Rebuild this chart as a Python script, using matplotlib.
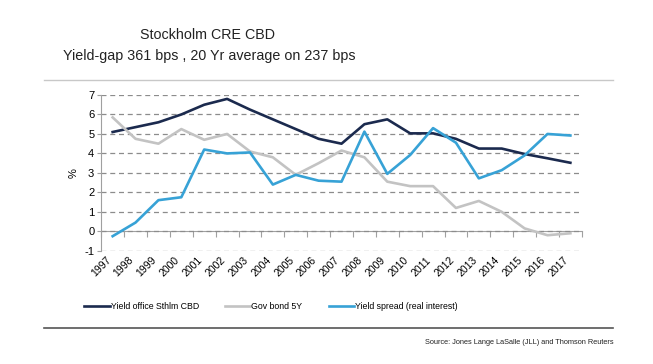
import matplotlib
matplotlib.use("Agg")
import matplotlib.pyplot as plt
from matplotlib.lines import Line2D
import numpy as np

plt.rcParams['font.family'] = ['Liberation Sans', 'DejaVu Sans']
plt.rcParams['axes.unicode_minus'] = False

years = [str(y) for y in range(1997, 2018)]
yield_office = [5.1, 5.35, 5.6, 6.0, 6.5, 6.8, 6.25, 5.75, 5.25, 4.75, 4.5,
                5.5, 5.75, 5.03, 5.03, 4.75, 4.25, 4.25, 3.97, 3.75, 3.52]
gov_bond = [5.85, 4.75, 4.5, 5.25, 4.7, 5.0, 4.1, 3.8, 2.9, 3.5, 4.15,
            3.8, 2.55, 2.32, 2.32, 1.2, 1.56, 1.0, 0.15, -0.2, -0.1]
yield_spread = [-0.25, 0.45, 1.6, 1.75, 4.2, 4.0, 4.05, 2.4, 2.9, 2.6, 2.55,
                5.12, 2.95, 3.92, 5.3, 4.55, 2.72, 3.14, 3.9, 5.0, 4.92]

labels = ["Yield office Sthlm CBD", "Gov bond 5Y", "Yield spread (real interest)"]
colors = ["#1b2a4e", "#c3c3c3", "#37a2d6"]

fig = plt.figure(figsize=(6.53, 3.64), dpi=100)
ax = fig.add_axes([0.155, 0.311, 0.736, 0.428])

x = np.arange(len(years))
for vals, lab, col in zip([yield_office, gov_bond, yield_spread], labels, colors):
    ax.plot(x, vals, color=col, lw=1.9, label=lab)

ax.set_xlim(-0.5, len(years) - 0.5)
ax.set_ylim(-1, 7)
ax.set_yticks(range(-1, 8))
ax.grid(axis='y', color='#8c8c8c', ls=(0, (4, 3)), lw=0.9)
ax.set_axisbelow(True)
for s in ['top', 'right', 'bottom']:
    ax.spines[s].set_visible(False)
ax.spines['left'].set_color('#a0a0a0')
ax.tick_params(axis='y', length=3, color='#a0a0a0', labelsize=8, pad=2)
ax.set_xticks(x)
ax.set_xticklabels(years, rotation=45, ha='right', fontsize=7.5)
ax.tick_params(axis='x', length=0, pad=3)
ax.set_ylabel('%', fontsize=8, labelpad=4)

# zero line with category boundary ticks
zax = ax.secondary_xaxis(1 / 8)
zax.set_xticks(np.arange(-0.5, len(years), 1))
zax.set_xticklabels([])
zax.tick_params(length=4, color='#a0a0a0', direction='out')
zax.spines['bottom'].set_color('#a0a0a0')

fig.text(0.318, 0.905, "Stockholm CRE CBD", fontsize=10.3, ha='center', va='center', color='#222222')
fig.text(0.32, 0.845, "Yield-gap 361 bps , 20 Yr average on 237 bps", fontsize=10.3,
         ha='center', va='center', color='#222222')

fig.add_artist(Line2D([0.067, 0.939], [0.78, 0.78], color='#c8c8c8', lw=1))
fig.add_artist(Line2D([0.067, 0.939], [0.099, 0.099], color='#555555', lw=1.2))

fig.legend(loc='center', bbox_to_anchor=(0.415, 0.157), ncol=3, frameon=False,
           fontsize=6.3, handlelength=2.9, handletextpad=0.1, columnspacing=3.0)

fig.text(0.939, 0.06, "Source: Jones Lange LaSalle (JLL) and Thomson Reuters", fontsize=5.3,
         ha='right', va='center', color='#222222')

fig.savefig('out.png', dpi=100)
